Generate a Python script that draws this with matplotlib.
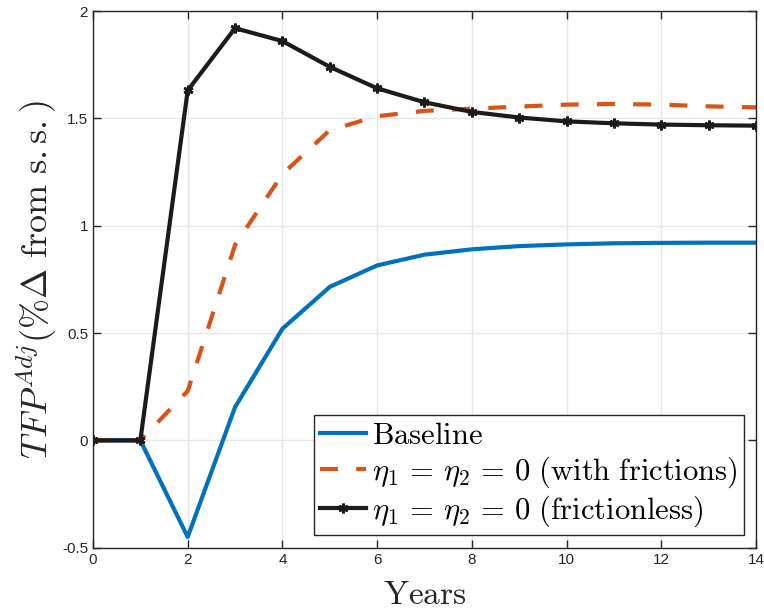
import numpy as np
import matplotlib
matplotlib.use("Agg")
from matplotlib import pyplot as plt

plt.rcParams['mathtext.fontset'] = 'cm'
plt.rcParams['font.family'] = ['Liberation Sans', 'DejaVu Sans']

years = np.arange(0, 15)
baseline = [0, 0, -0.45, 0.155, 0.52, 0.715, 0.815, 0.865, 0.89, 0.905, 0.913, 0.918, 0.92, 0.921, 0.921]
with_frictions = [0, 0, 0.23, 0.91, 1.24, 1.445, 1.51, 1.535, 1.545, 1.555, 1.564, 1.567, 1.564, 1.556, 1.551]
frictionless = [0, 0, 1.63, 1.92, 1.86, 1.74, 1.64, 1.575, 1.53, 1.504, 1.486, 1.477, 1.471, 1.468, 1.466]

xticks = [0, 2, 4, 6, 8, 10, 12, 14]
yticks = [-0.5, 0, 0.5, 1, 1.5, 2]
ytick_labels = ['-0.5', '0', '0.5', '1', '1.5', '2']

fig = plt.figure(figsize=(7.64, 6.13), dpi=100)
ax = fig.add_axes([0.1217, 0.1065, 0.8678, 0.8755])

ax.plot(years, baseline, color='#0072BD', lw=3,
        label=r'$\mathrm{Baseline}$')
ax.plot(years, with_frictions, color='#D95319', lw=3, ls=(0, (4.3, 4.4)),
        label=r'$\eta_1\,=\,\eta_2\,=\,0\ \mathrm{(with\ frictions)}$')
ax.plot(years, frictionless, color='#1f1a1a', lw=3, marker=(6, 2, 0),
        ms=7, mew=2, label=r'$\eta_1\,=\,\eta_2\,=\,0\ \mathrm{(frictionless)}$')

ax.set_xlim(0, 14)
ax.set_ylim(-0.5, 2)
ax.set_xticks(xticks)
ax.set_xticklabels([str(t) for t in xticks])
ax.set_yticks(yticks)
ax.set_yticklabels(ytick_labels)
ax.tick_params(direction='in', top=True, right=True, labelsize=11,
               colors='#262626', length=6, width=1)
ax.grid(True, color='#e6e6e6', lw=1)
ax.set_axisbelow(True)
for s in ax.spines.values():
    s.set_color('#262626')
    s.set_linewidth(1)

ax.set_xlabel(r'$\mathrm{Years}$', fontsize=24, color='#262626', labelpad=10)
ax.set_ylabel(r'$TFP^{Adj}(\%\Delta\ \mathrm{from\ s.s.})$', fontsize=26,
              color='#262626', labelpad=2)

leg = ax.legend(loc='lower right', fontsize=22, handlelength=1.5,
                handletextpad=0.2, borderpad=0.2, labelspacing=0.12,
                fancybox=False, framealpha=1, borderaxespad=0.4)
leg.get_frame().set_edgecolor('#262626')
leg.get_frame().set_linewidth(1)

fig.savefig('out.png', dpi=100)
